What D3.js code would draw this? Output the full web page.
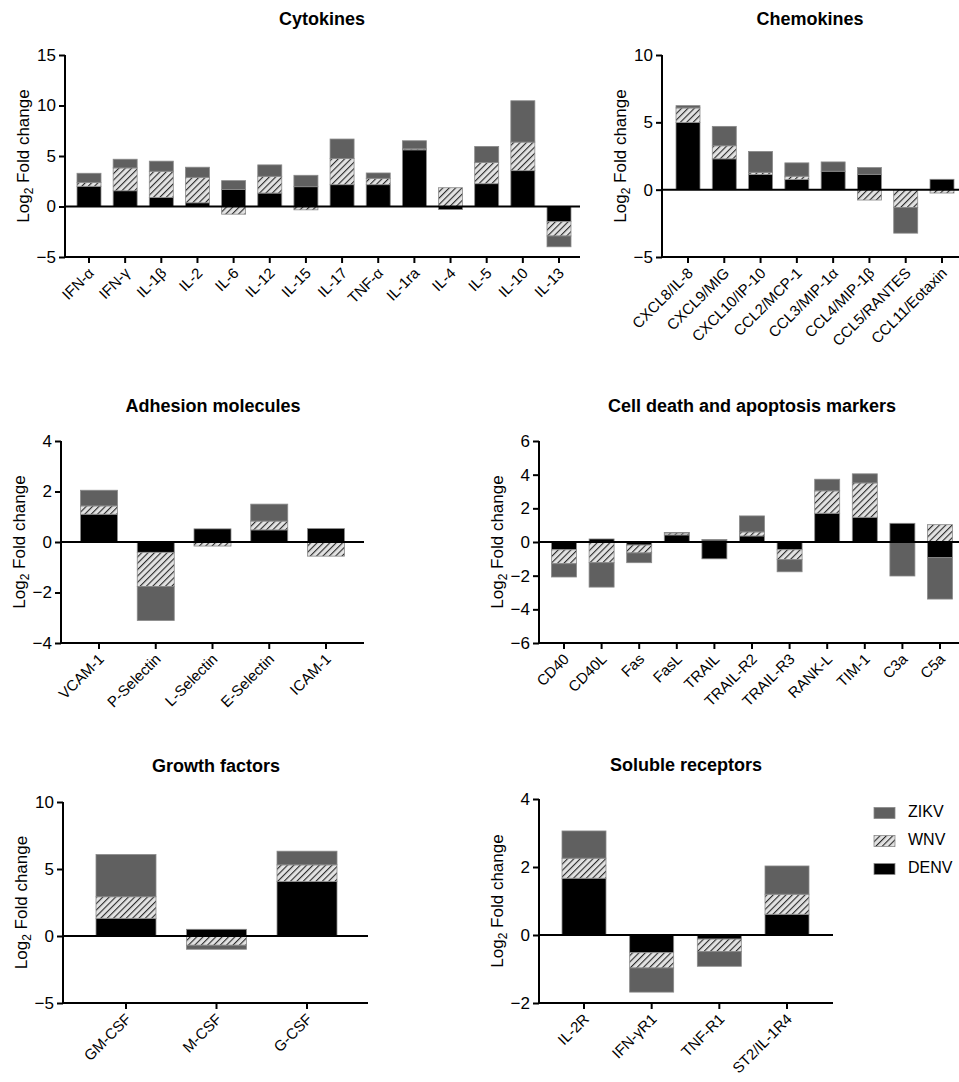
<!DOCTYPE html>
<html>
<head>
<meta charset="utf-8">
<script src="https://cdn.jsdelivr.net/npm/d3@7"></script>
<style>
  body { margin: 0; background: #fff; }
  svg { font-family: "Liberation Sans", Arial, sans-serif; }
</style>
</head>
<body>
<svg id="chart" width="959" height="1082"></svg>
<script>
// series order: DENV bottom, then WNV, then ZIKV (diverging stack)
const keys = ["DENV", "WNV", "ZIKV"];

const cytoCats = ["IFN-α", "IFN-γ", "IL-1β", "IL-2", "IL-6", "IL-12", "IL-15", "IL-17", "TNF-α", "IL-1ra", "IL-4", "IL-5", "IL-10", "IL-13"];
const cytoDENV = [2.0, 1.56, 0.9, 0.37, 1.69, 1.33, 1.96, 2.16, 2.16, 5.61, -0.3, 2.26, 3.55, -1.5];
const cytoWNV  = [0.39, 2.26, 2.59, 2.52, -0.76, 1.66, -0.33, 2.59, 0.63, 0.1, 1.86, 2.09, 2.83, -1.42];
const cytoZIKV = [0.9, 0.86, 1.0, 1.0, 0.87, 1.13, 1.13, 1.93, 0.53, 0.8, 0, 1.6, 4.09, -1.07];

const chemoCats = ["CXCL8/IL-8", "CXCL9/MIG", "CXCL10/IP-10", "CCL2/MCP-1", "CCL3/MIP-1α", "CCL4/MIP-1β", "CCL5/RANTES", "CCL11/Eotaxin"];
const chemoDENV = [4.98, 2.29, 1.12, 0.75, 1.37, 1.14, 0, 0.77];
const chemoWNV  = [1.09, 0.97, 0.17, 0.25, 0, -0.77, -1.32, -0.25];
const chemoZIKV = [0.17, 1.44, 1.55, 0.99, 0.69, 0.5, -1.91, 0];

const adhCats = ["VCAM-1", "P-Selectin", "L-Selectin", "E-Selectin", "ICAM-1"];
const adhDENV = [1.1, -0.41, 0.52, 0.48, 0.53];
const adhWNV  = [0.33, -1.35, -0.16, 0.35, -0.56];
const adhZIKV = [0.62, -1.35, 0, 0.67, 0];

const deathCats = ["CD40", "CD40L", "Fas", "FasL", "TRAIL", "TRAIL-R2", "TRAIL-R3", "RANK-L", "TIM-1", "C3a", "C5a"];
const deathDENV = [-0.46, 0.18, -0.18, 0.42, -1.0, 0.36, -0.46, 1.71, 1.47, 1.11, -0.93];
const deathWNV  = [-0.83, -1.23, -0.47, 0.12, 0, 0.24, -0.59, 1.33, 2.04, 0, 1.03];
const deathZIKV = [-0.79, -1.45, -0.58, 0.03, 0.15, 0.95, -0.72, 0.69, 0.54, -2.02, -2.46];

const growthCats = ["GM-CSF", "M-CSF", "G-CSF"];
const growthDENV = [1.32, 0.5, 4.07];
const growthWNV  = [1.61, -0.69, 1.24];
const growthZIKV = [3.15, -0.3, 1.02];

const solCats = ["IL-2R", "IFN-γR1", "TNF-R1", "ST2/IL-1R4"];
const solDENV = [1.67, -0.52, -0.12, 0.61];
const solWNV  = [0.59, -0.45, -0.37, 0.59];
const solZIKV = [0.8, -0.71, -0.43, 0.83];

const legendKeys = ["ZIKV", "WNV", "DENV"];

const svg = d3.select("#chart");

// hatch for WNV
const defs = svg.append("defs");
defs.append("pattern")
  .attr("id", "hatch")
  .attr("patternUnits", "userSpaceOnUse")
  .attr("width", 4.5).attr("height", 4.5)
  .attr("patternTransform", "rotate(45)")
  .call(p => {
    p.append("rect").attr("width", 4.5).attr("height", 4.5).attr("fill", "#e2e2e2");
    p.append("line").attr("x1", 0).attr("y1", 0).attr("x2", 0).attr("y2", 4.5)
      .attr("stroke", "#2a2a2a").attr("stroke-width", 2.2);
  });

const fills = { DENV: "#000", WNV: "url(#hatch)", ZIKV: "#606060" };

function panel(o) {
  const rows = o.cats.map((c, i) => ({ cat: c, DENV: o.denv[i], WNV: o.wnv[i], ZIKV: o.zikv[i] }));
  const series = d3.stack().keys(keys).offset(d3.stackOffsetDiverging)(rows);

  const step = (o.cN - o.c0) / (o.cats.length - 1);
  const pad = 1 - o.barW / step;
  const x = d3.scaleBand().domain(o.cats)
    .range([o.c0 - step / 2, o.cN + step / 2])
    .paddingInner(pad).paddingOuter(pad / 2);
  const y = d3.scaleLinear().domain(o.domain).range([o.yb, o.yt]);

  const g = svg.append("g");

  g.append("text")
    .attr("x", o.tx).attr("y", o.ty)
    .attr("text-anchor", "middle")
    .attr("dominant-baseline", "middle")
    .attr("font-size", 18).attr("font-weight", "bold")
    .text(o.title);

  g.selectAll("g.s").data(series).join("g")
    .attr("fill", d => fills[d.key])
    .selectAll("rect").data(d => d).join("rect")
    .attr("x", d => x(d.data.cat))
    .attr("width", x.bandwidth())
    .attr("y", d => y(Math.max(d[0], d[1])))
    .attr("height", d => Math.abs(y(d[0]) - y(d[1])))
    .attr("stroke", d => (d[1] - d[0]) === 0 ? "none" : "#8a8a8a")
    .attr("stroke-width", 0.8);

  // zero line
  g.append("line")
    .attr("x1", o.x0).attr("x2", o.x1)
    .attr("y1", y(0)).attr("y2", y(0))
    .attr("stroke", "#000").attr("stroke-width", 2);

  // y axis
  const yAx = g.append("g")
    .attr("transform", `translate(${o.x0},0)`)
    .call(d3.axisLeft(y).tickValues(o.ticks).tickFormat(d3.format("d"))
      .tickSize(6).tickSizeOuter(0).tickPadding(3));
  yAx.select(".domain").attr("stroke-width", 2).attr("d", `M0,${o.yt}V${o.yb}`);
  yAx.selectAll(".tick line").attr("stroke-width", 2);
  yAx.selectAll(".tick text").attr("font-size", 17).attr("font-family", null);

  // x axis at bottom
  const xAx = g.append("g")
    .attr("transform", `translate(0,${o.yb})`)
    .call(d3.axisBottom(x).tickSize(6).tickSizeOuter(0));
  xAx.select(".domain").attr("stroke-width", 2).attr("d", `M${o.x0},0H${o.x1}`);
  xAx.selectAll(".tick line").attr("stroke-width", 2);
  xAx.selectAll(".tick text")
    .attr("font-size", 15).attr("font-family", null)
    .attr("text-anchor", "end")
    .attr("dy", null).attr("y", null)
    .attr("transform", "translate(6,17) rotate(-45)");

  // y label
  const lbl = g.append("text")
    .attr("transform", `translate(${o.x0 - 36},${(o.yt + o.yb) / 2}) rotate(-90)`)
    .attr("text-anchor", "middle")
    .attr("font-size", 17);
  lbl.append("tspan").text("Log");
  lbl.append("tspan").attr("font-size", 12).attr("dy", 4).text("2");
  lbl.append("tspan").attr("dy", -4).text(" Fold change");
}

panel({ title: "Cytokines", tx: 322, ty: 20, cats: cytoCats, denv: cytoDENV, wnv: cytoWNV, zikv: cytoZIKV,
  c0: 89, cN: 559, barW: 24, x0: 65, x1: 580, yt: 55, yb: 257, domain: [-5, 15], ticks: [-5, 0, 5, 10, 15] });
panel({ title: "Chemokines", tx: 810, ty: 20, cats: chemoCats, denv: chemoDENV, wnv: chemoWNV, zikv: chemoZIKV,
  c0: 688, cN: 942, barW: 24, x0: 662, x1: 959, yt: 55, yb: 257, domain: [-5, 10], ticks: [-5, 0, 5, 10] });
panel({ title: "Adhesion molecules", tx: 213, ty: 407, cats: adhCats, denv: adhDENV, wnv: adhWNV, zikv: adhZIKV,
  c0: 99, cN: 326, barW: 37, x0: 61, x1: 364, yt: 441, yb: 643, domain: [-4, 4], ticks: [-4, -2, 0, 2, 4] });
panel({ title: "Cell death and apoptosis markers", tx: 752, ty: 407, cats: deathCats, denv: deathDENV, wnv: deathWNV, zikv: deathZIKV,
  c0: 564, cN: 940, barW: 25, x0: 539, x1: 959, yt: 441, yb: 643, domain: [-6, 6], ticks: [-6, -4, -2, 0, 2, 4, 6] });
panel({ title: "Growth factors", tx: 216, ty: 767, cats: growthCats, denv: growthDENV, wnv: growthWNV, zikv: growthZIKV,
  c0: 126, cN: 307, barW: 60, x0: 63, x1: 368, yt: 802, yb: 1003, domain: [-5, 10], ticks: [-5, 0, 5, 10] });
panel({ title: "Soluble receptors", tx: 686, ty: 766, cats: solCats, denv: solDENV, wnv: solWNV, zikv: solZIKV,
  c0: 584, cN: 787, barW: 44, x0: 539, x1: 833, yt: 799, yb: 1003, domain: [-2, 4], ticks: [-2, 0, 2, 4] });

// legend
const lg = svg.append("g").attr("transform", "translate(874,813)");
const li = lg.selectAll("g").data(legendKeys).join("g")
  .attr("transform", (d, i) => `translate(0,${i * 28})`);
li.append("rect").attr("x", 0).attr("y", -5.5).attr("width", 21).attr("height", 11)
  .attr("fill", d => fills[d]).attr("stroke", "#8a8a8a").attr("stroke-width", 0.8);
li.append("text").attr("x", 34).attr("y", 0).attr("dominant-baseline", "middle")
  .attr("font-size", 16).text(d => d);
</script>
</body>
</html>
